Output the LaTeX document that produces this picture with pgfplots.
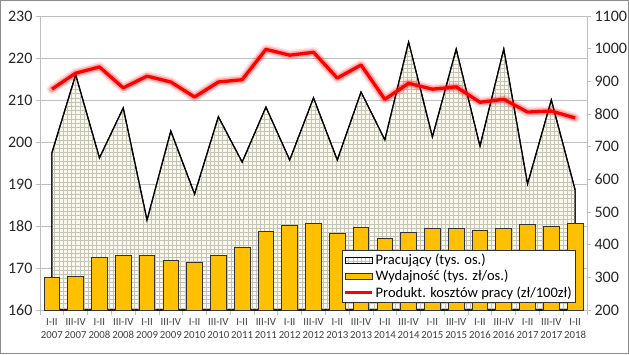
\documentclass[border=0pt]{standalone}
\usepackage{pgfplots}
\pgfplotsset{compat=1.18}
\usepackage{pgfplotstable}
\usepackage{fontspec}
\setmainfont{Carlito}
\usetikzlibrary{patterns}
\definecolor{gold}{HTML}{FFC000}
\definecolor{cream}{HTML}{FBF9EE}
\definecolor{pat}{HTML}{C4C4B6}
\definecolor{gridc}{HTML}{BFBFBF}
\definecolor{brd}{HTML}{8C8C8C}

\pgfdeclarepatternformonly{mygrid}{\pgfqpoint{-0.5pt}{-0.5pt}}{\pgfqpoint{4.7pt}{4.7pt}}{\pgfqpoint{4.2pt}{4.2pt}}{%
  \pgfsetlinewidth{0.55pt}%
  \pgfpathmoveto{\pgfqpoint{-0.1pt}{0pt}}\pgfpathlineto{\pgfqpoint{4.3pt}{0pt}}%
  \pgfpathmoveto{\pgfqpoint{0pt}{-0.1pt}}\pgfpathlineto{\pgfqpoint{0pt}{4.3pt}}%
  \pgfusepath{stroke}}

\pgfplotsset{
  boxlegend/.style={legend image code/.code={\draw[##1] (0pt,-3pt) rectangle (27pt,3pt);}},
  linelegend/.style={legend image code/.code={\draw[##1, line width=2.5pt] (0pt,0pt) -- (27pt,0pt);}},
}

\pgfplotstableread{
x y
0 197.4
1 216.0
2 196.2
3 208.1
4 181.4
5 202.6
6 187.6
7 206.0
8 195.2
9 208.3
10 195.7
11 210.5
12 195.7
13 211.9
14 200.5
15 223.8
16 201.2
17 222.1
18 199.0
19 222.1
20 190.0
21 210.0
22 188.6
}\pracujacy

\pgfplotstableread{
x y
0 300
1 304
2 361
3 367
4 367
5 353
6 347
7 367
8 392
9 440
10 458
11 465
12 435
13 453
14 420
15 438
16 449
17 449
18 443
19 449
20 462
21 455
22 465
}\wydajnosc

\pgfplotstableread{
x y
0 876
1 925
2 944
3 880
4 916
5 898
6 852
7 898
8 905
9 998
10 980
11 989
12 910
13 950
14 845
15 894
16 876
17 883
18 836
19 845
20 806
21 809
22 788
}\produkt

\begin{document}
\begin{tikzpicture}
\begin{axis}[name=main, scale only axis, width=547pt, height=294pt,
  xmin=-0.5, xmax=22.5, ymin=160, ymax=230,
  ytick={160,170,...,230}, ytick pos=left,
  xtick={0,...,22}, xtick pos=bottom,
  minor xtick={-0.5,0.5,...,22.5},
  tick align=outside, major tick length=4pt, minor tick length=5pt,
  major x tick style={draw=none},
  minor x tick style={draw=gridc, line width=0.8pt},
  ytick style={draw=gridc, line width=0.8pt},
  ymajorgrids, grid style={draw=gridc, line width=0.8pt},
  axis line style={draw=gridc, line width=0.8pt},
  /pgf/number format/assume math mode=true,
  yticklabel style={font=\fontsize{16}{16}\selectfont, text=black!85},
  xticklabel style={font=\fontsize{10.8}{13}\selectfont, align=center, text=black!75, yshift=-1pt},
  xticklabels={{I-II\\2007},{III-IV\\2007},{I-II\\2008},{III-IV\\2008},{I-II\\2009},{III-IV\\2009},{I-II\\2010},{III-IV\\2010},{I-II\\2011},{III-IV\\2011},{I-II\\2012},{III-IV\\2012},{I-II\\2013},{III-IV\\2013},{I-II\\2014},{III-IV\\2014},{I-II\\2015},{III-IV\\2015},{I-II\\2016},{III-IV\\2016},{I-II\\2017},{III-IV\\2017},{I-II\\2018}},
]
\addplot[draw=black, line width=1.2pt, preaction={fill=cream}, pattern=mygrid, pattern color=pat] table[x=x,y=y] {\pracujacy} \closedcycle;
\end{axis}
\begin{axis}[scale only axis, width=547pt, height=294pt,
  xmin=-0.5, xmax=22.5, ymin=200, ymax=1100,
  ytick={200,300,...,1100},
  axis x line=none, axis y line*=right,
  y axis line style={draw=gridc, line width=0.8pt},
  ytick style={draw=gridc, line width=0.8pt},
  tick align=outside, major tick length=4pt,
  /pgf/number format/assume math mode=true,
  /pgf/number format/set thousands separator={},
  yticklabel style={font=\fontsize{16}{16}\selectfont, text=black!85},
  legend style={at={(0.98,0.024)}, anchor=south east, draw=black!80, line width=0.8pt, fill=white,
    font=\fontsize{14.5}{16}\selectfont, cells={anchor=west}, row sep=0pt, inner sep=2pt,
    /tikz/every even column/.append style={column sep=1pt}},
]
\addlegendimage{boxlegend, draw=black, line width=1pt, fill=white, pattern=mygrid, pattern color=pat}
\addlegendentry{Pracujący (tys. os.)}
\addplot[ybar, bar width=15.7pt, fill=gold, draw=black!80, line width=0.9pt, boxlegend] table[x=x,y=y] {\wydajnosc};
\addlegendentry{Wydajność (tys. zł/os.)}
\addplot[red, opacity=0.12, line width=10pt, line join=round, line cap=round, forget plot] table[x=x,y=y] {\produkt};
\addplot[red, opacity=0.25, line width=6.5pt, line join=round, line cap=round, forget plot] table[x=x,y=y] {\produkt};
\addplot[red, line width=3.3pt, line join=round, linelegend] table[x=x,y=y] {\produkt};
\addlegendentry{Produkt. kosztów pracy (zł/100zł)}
\end{axis}
\pgfresetboundingbox
\useasboundingbox ([shift={(-40pt,-44pt)}]main.south west) rectangle ++(629pt,354pt);
\draw[brd, line width=1.5pt] ([shift={(-39.25pt,-43.25pt)}]main.south west) rectangle ++(627.5pt,352.5pt);
\end{tikzpicture}
\end{document}
